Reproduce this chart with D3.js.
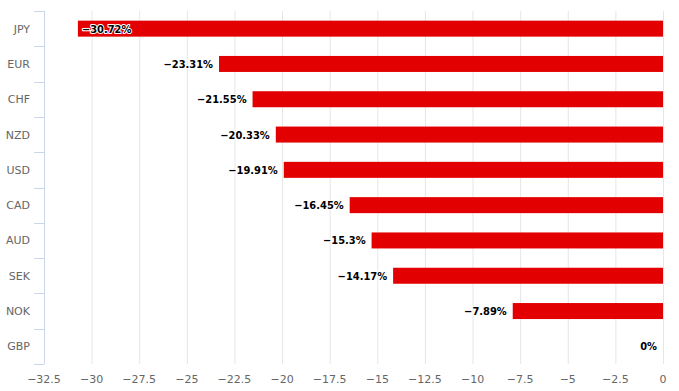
<!DOCTYPE html>
<html>
<head>
<meta charset="utf-8">
<script src="https://cdn.jsdelivr.net/npm/d3@7"></script>
<style>
  body { margin: 0; background: #fff; }
  svg { font-family: "DejaVu Sans", sans-serif; }
</style>
</head>
<body>
<div id="chart"></div>
<script>
// currencies top to bottom and their change in percent
var currencies = ["JPY", "EUR", "CHF", "NZD", "USD", "CAD", "AUD", "SEK", "NOK", "GBP"];
var changes = [-30.72, -23.31, -21.55, -20.33, -19.91, -16.45, -15.3, -14.17, -7.89, 0];
var xTicks = [-32.5, -30, -27.5, -25, -22.5, -20, -17.5, -15, -12.5, -10, -7.5, -5, -2.5, 0];

var width = 679, height = 391;
var margin = { top: 11, right: 16, bottom: 27, left: 44 };
var innerW = width - margin.left - margin.right,
    innerH = height - margin.top - margin.bottom;

var svg = d3.select("#chart").append("svg")
    .attr("width", width)
    .attr("height", height);

var g = svg.append("g")
    .attr("transform", "translate(" + margin.left + "," + margin.top + ")");

var x = d3.scaleLinear().domain([-32.5, 0]).range([0, innerW]);
var y = d3.scaleBand().domain(currencies).range([0, innerH]);

var rows = currencies.map(function (c, i) { return { name: c, value: changes[i] }; });

// vertical grid lines
g.selectAll("line.grid")
    .data(xTicks)
    .enter().append("line")
    .attr("class", "grid")
    .attr("x1", function (d) { return x(d) + 0.5; })
    .attr("x2", function (d) { return x(d) + 0.5; })
    .attr("y1", 0)
    .attr("y2", innerH)
    .attr("stroke", "#e6e6e6");

// x tick labels
g.selectAll("text.xtick")
    .data(xTicks)
    .enter().append("text")
    .attr("class", "xtick")
    .attr("x", function (d) { return x(d); })
    .attr("y", innerH + 19)
    .attr("text-anchor", "middle")
    .attr("font-size", "11px")
    .attr("fill", "#666")
    .text(function (d) { return d3.format("")(d).replace("-", "\u2212"); });

// category axis line and tick marks
g.append("line")
    .attr("x1", 0.5).attr("x2", 0.5)
    .attr("y1", 0).attr("y2", innerH)
    .attr("stroke", "#ccd6eb");

var bounds = currencies.map(function (c) { return y(c); }).concat([innerH]);
g.selectAll("line.ytick")
    .data(bounds)
    .enter().append("line")
    .attr("class", "ytick")
    .attr("x1", -10).attr("x2", 0)
    .attr("y1", function (d) { return Math.round(d) + 0.5; })
    .attr("y2", function (d) { return Math.round(d) + 0.5; })
    .attr("stroke", "#ccd6eb");

g.selectAll("text.cat")
    .data(currencies)
    .enter().append("text")
    .attr("class", "cat")
    .attr("x", -14)
    .attr("y", function (d) { return y(d) + y.bandwidth() / 2 + 4; })
    .attr("text-anchor", "end")
    .attr("font-size", "11px")
    .attr("fill", "#666")
    .text(function (d) { return d; });

// bars
var barH = 16;
g.selectAll("rect.bar")
    .data(rows)
    .enter().append("rect")
    .attr("class", "bar")
    .attr("x", function (d) { return x(d.value); })
    .attr("width", function (d) { return x(0) - x(d.value); })
    .attr("y", function (d) { return y(d.name) + y.bandwidth() / 2 - barH / 2; })
    .attr("height", barH)
    .attr("fill", "#e20000");

// value labels, inside the bar when there is no room on the left
function fmt(v) { return (v === 0 ? "0" : String(v).replace("-", "\u2212")) + "%"; }

g.selectAll("text.val")
    .data(rows)
    .enter().append("text")
    .attr("class", "val")
    .attr("x", function (d) {
        return x(d.value) < 60 ? x(d.value) + 4 : x(d.value) - 6;
    })
    .attr("y", function (d) { return y(d.name) + y.bandwidth() / 2 + 4; })
    .attr("text-anchor", function (d) { return x(d.value) < 60 ? "start" : "end"; })
    .attr("font-family", "'DejaVu Sans Condensed', 'DejaVu Sans', sans-serif")
    .attr("font-size", "11px")
    .attr("font-weight", "bold")
    .attr("fill", "#000")
    .attr("stroke", "#fff")
    .attr("stroke-width", 2)
    .attr("stroke-linejoin", "round")
    .attr("paint-order", "stroke")
    .text(function (d) { return fmt(d.value); });
</script>
</body>
</html>
